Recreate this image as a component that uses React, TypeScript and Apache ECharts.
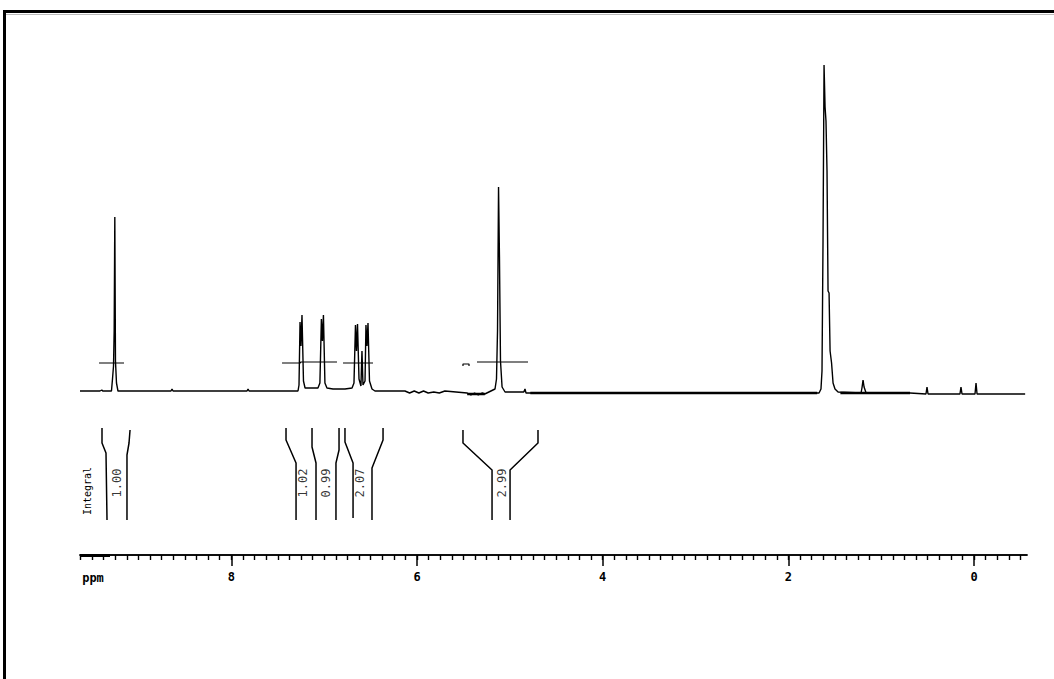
import React, { useEffect, useRef } from "react";
import * as echarts from "echarts";

// ---- axis range (ppm) ----
const PPM_MIN = -0.57;
const PPM_MAX = 9.63;

// ---- spectrum points [ppm, intensity] ----
const spectrum: [number, number][] = [
  [9.63, 0], [9.415, 0], [9.395, 1], [9.385, 0],
  [9.291, 0], [9.28, 12], [9.269, 25], [9.262, 60], [9.255, 174], [9.248, 30], [9.237, 8], [9.221, 0],
  [8.65, 0], [8.639, 2], [8.628, 0],
  [7.831, 0], [7.82, 2], [7.809, 0],
  [7.282, 0], [7.271, 6], [7.26, 69], [7.25, 45], [7.239, 76], [7.223, 10], [7.206, 3],
  [7.067, 3], [7.046, 8], [7.03, 72], [7.019, 50], [7.008, 76], [6.992, 8], [6.97, 3],
  [6.905, 2], [6.776, 2], [6.7, 3], [6.679, 8], [6.663, 66], [6.652, 40], [6.641, 67], [6.625, 12],
  [6.604, 5], [6.593, 40], [6.582, 6], [6.56, 10], [6.55, 66], [6.539, 45], [6.528, 68], [6.512, 10],
  [6.485, 2], [6.453, 0],
  [6.13, 0], [6.08, -2], [6.03, 0], [5.98, -2], [5.93, 0], [5.88, -2], [5.82, -1], [5.76, -2], [5.7, 0],
  [5.46, -2], [5.42, -4], [5.38, -2], [5.34, -4], [5.3, -2], [5.27, -3],
  [5.16, 2], [5.144, 12], [5.133, 60], [5.122, 204], [5.112, 134], [5.101, 30], [5.084, 4], [5.052, -1],
  [4.85, -1], [4.837, 2], [4.826, -2],
  [1.67, -2], [1.649, 2], [1.638, 20], [1.627, 150], [1.616, 326], [1.605, 284], [1.595, 270],
  [1.584, 220], [1.573, 100], [1.562, 98], [1.551, 40], [1.535, 28], [1.519, 8], [1.498, 2], [1.465, -1],
  [1.217, -2], [1.206, 4], [1.196, 11], [1.185, 4], [1.163, -2],
  [0.69, -2], [0.518, -3], [0.507, 4], [0.496, -3],
  [0.152, -3], [0.141, 4], [0.13, -3],
  [-0.01, -3], [-0.021, 8], [-0.032, -3],
  [-0.55, -3],
];

// noisy baseline stretches drawn thicker [ppm, intensity]
const noiseSegments: [number, number][][] = [
  [[5.46, -3], [5.27, -3]],
  [[4.78, -2], [1.69, -2]],
  [[1.44, -2], [0.69, -2]],
];

// integral cross-hair markers on the spectrum [ppm, intensity]
const crosshairs: [number, number][][] = [
  [[9.425, 28], [9.156, 28]],
  [[7.454, 28], [7.26, 28], [7.25, 29], [6.862, 29]],
  [[6.797, 28], [6.474, 28]],
  [[5.354, 29], [4.804, 29]],
  [[5.505, 25], [5.505, 27], [5.44, 27], [5.44, 25]],
];

// ---- ppm axis ticks ----
const majorTicks = [0, 2, 4, 6, 8];
const minorTicks: number[] = [];
for (let i = -4; i <= 77; i++) minorTicks.push(Math.round(i * 125) / 1000);

// ---- integrals (boundary curves [ppm, level], values and label positions) ----
const integralLines: [number, number][][] = [
  [[9.393, 92], [9.393, 77], [9.35, 67], [9.339, 0]],
  [[9.091, 90], [9.102, 77], [9.124, 65], [9.124, 0]],
  [[7.411, 92], [7.411, 80], [7.303, 57], [7.303, 0]],
  [[7.131, 92], [7.131, 73], [7.088, 57], [7.088, 0]],
  [[6.84, 92], [6.84, 70], [6.873, 57], [6.873, 0]],
  [[6.776, 92], [6.776, 78], [6.689, 57], [6.689, 2]],
  [[6.366, 92], [6.366, 80], [6.485, 52], [6.485, 0]],
  [[5.505, 90], [5.505, 77], [5.192, 50], [5.192, 0]],
  [[4.697, 90], [4.697, 77], [4.998, 50], [4.998, 0]],
];
const integralValues = ["1.00", "1.02", "0.99", "2.07", "2.99"];
const integralLabelPpm = [9.231, 7.228, 6.98, 6.614, 5.085];
const integralLabelLevel = 37;

const MONO = '"DejaVu Sans Mono", monospace';

export default function App() {
  const ref = useRef<HTMLDivElement>(null);
  useEffect(() => {
    document.body.style.margin = "0";
    if (!ref.current) return;
    const chart = echarts.init(ref.current, null, { renderer: "svg" });
    const lineBase = {
      type: "line",
      showSymbol: false,
      symbol: "none",
      silent: true,
      animation: false,
    };
    const series: any[] = [
      {
        ...lineBase,
        name: "spectrum",
        xAxisIndex: 0,
        yAxisIndex: 0,
        data: spectrum,
        lineStyle: { color: "#000", width: 1.4 },
      },
      ...noiseSegments.map((d) => ({
        ...lineBase,
        xAxisIndex: 0,
        yAxisIndex: 0,
        data: d,
        lineStyle: { color: "#000", width: 2.6 },
      })),
      ...crosshairs.map((d) => ({
        ...lineBase,
        xAxisIndex: 0,
        yAxisIndex: 0,
        data: d,
        lineStyle: { color: "#000", width: 1.2 },
      })),
      ...integralLines.map((d) => ({
        ...lineBase,
        xAxisIndex: 1,
        yAxisIndex: 1,
        data: d,
        lineStyle: { color: "#000", width: 1.5 },
      })),
      {
        type: "scatter",
        xAxisIndex: 1,
        yAxisIndex: 1,
        silent: true,
        symbolSize: 1,
        itemStyle: { color: "rgba(0,0,0,0)" },
        data: integralValues.map((v, i) => ({
          name: v,
          value: [integralLabelPpm[i], integralLabelLevel],
        })),
        label: {
          show: true,
          position: "inside",
          rotate: 90,
          formatter: (p: any) => p.name,
          fontFamily: MONO,
          fontSize: 12,
          color: "#000",
        },
      },
    ];

    const axisCommon = {
      type: "value",
      min: PPM_MIN,
      max: PPM_MAX,
      inverse: true,
      splitLine: { show: false },
    };
    const scaleGrid = { left: 80, right: 27, top: 455, bottom: 124 };

    chart.setOption({
      animation: false,
      backgroundColor: "#fff",
      grid: [
        { left: 80, right: 27, top: 61, bottom: 278 },
        { left: 80, right: 27, top: 420, bottom: 159 },
        scaleGrid,
        scaleGrid,
      ],
      xAxis: [
        { ...axisCommon, gridIndex: 0, show: false },
        { ...axisCommon, gridIndex: 1, show: false },
        {
          ...axisCommon,
          gridIndex: 2,
          position: "bottom",
          axisLine: { show: true, onZero: false, lineStyle: { color: "#000", width: 1.5 } },
          axisTick: {
            show: true,
            customValues: minorTicks,
            length: 5,
            lineStyle: { color: "#000", width: 1.4 },
          },
          axisLabel: { show: false },
        },
        {
          ...axisCommon,
          gridIndex: 3,
          position: "bottom",
          axisLine: { show: true, onZero: false, lineStyle: { color: "#000", width: 1.5 } },
          axisTick: {
            show: true,
            customValues: majorTicks,
            length: 11,
            lineStyle: { color: "#000", width: 1.5 },
          },
          axisLabel: {
            show: true,
            customValues: majorTicks,
            margin: 16,
            color: "#000",
            fontFamily: MONO,
            fontSize: 12,
            fontWeight: "bold",
            formatter: (v: number) => String(v),
          },
        },
      ],
      yAxis: [
        { type: "value", gridIndex: 0, min: -10, max: 330, show: false },
        { type: "value", gridIndex: 1, min: 0, max: 100, show: false },
        { type: "value", gridIndex: 2, min: 0, max: 1, show: false },
        { type: "value", gridIndex: 3, min: 0, max: 1, show: false },
      ],
      graphic: [
        {
          type: "rect",
          silent: true,
          shape: { x: 4.5, y: 11.5, width: 1200, height: 900 },
          style: { fill: "none", stroke: "#000", lineWidth: 3 },
        },
        {
          type: "line",
          silent: true,
          shape: { x1: 6, y1: 14.5, x2: 1054, y2: 14.5 },
          style: { stroke: "#bbb", lineWidth: 1 },
        },
        {
          type: "rect",
          silent: true,
          shape: { x: 80, y: 554, width: 30, height: 3 },
          style: { fill: "#000" },
        },
        {
          type: "text",
          silent: true,
          x: 93,
          y: 578,
          style: {
            text: "ppm",
            fill: "#000",
            font: 'bold 12px "DejaVu Sans Mono"',
            align: "center",
            verticalAlign: "middle",
            textAlign: "center",
            textVerticalAlign: "middle",
          },
        },
        {
          type: "text",
          silent: true,
          x: 87,
          y: 491,
          rotation: Math.PI / 2,
          style: {
            text: "Integral",
            fill: "#000",
            font: '10px "DejaVu Sans Mono"',
            align: "center",
            verticalAlign: "middle",
            textAlign: "center",
            textVerticalAlign: "middle",
          },
        },
      ],
      series,
    });
    return () => chart.dispose();
  }, []);
  return (
    <div
      ref={ref}
      style={{ position: "absolute", left: 0, top: 0, width: 1054, height: 679 }}
    />
  );
}
